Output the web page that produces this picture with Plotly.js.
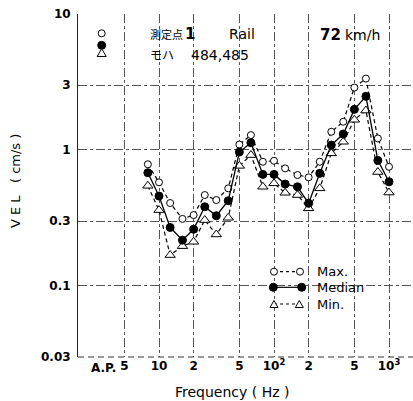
<!DOCTYPE html>
<html>
<head>
<meta charset="utf-8">
<script src="https://cdn.plot.ly/plotly-3.0.1.min.js"></script>
<style>html,body{margin:0;padding:0;background:#fff;}#chart{width:413px;height:401px;}</style>
</head>
<body>
<div id="chart"></div>
<script>
// Frequency bands (Hz), 1/3 octave
var freq = [8, 10, 12.5, 16, 20, 25, 31.5, 40, 50, 63, 80, 100, 125, 160, 200, 250, 315, 400, 500, 630, 800, 1000];
// Vibration velocity (cm/s)
var maxV = [0.785, 0.578, 0.407, 0.311, 0.332, 0.466, 0.428, 0.522, 1.096, 1.287, 0.819, 0.833, 0.732, 0.654, 0.629, 0.819, 1.361, 1.613, 2.88, 3.35, 1.217, 0.752];
var medV = [0.680, 0.458, 0.269, 0.217, 0.261, 0.382, 0.328, 0.423, 0.965, 1.13, 0.661, 0.661, 0.561, 0.536, 0.405, 0.673, 1.087, 1.31, 1.99, 2.48, 0.838, 0.583];
var minV = [0.545, 0.361, 0.1685, 0.196, 0.211, 0.305, 0.239, 0.317, 0.764, 0.917, 0.536, 0.568, 0.484, 0.466, 0.372, 0.522, 0.944, 1.149, 1.668, 1.95, 0.688, 0.486];

var xTickVals = [5, 10, 20, 50, 100, 200, 500, 1000];
var xTickText = ["5", "10", "2", "5", "10<sup>2</sup>", "2", "5", "10<sup>3</sup>"];
var yTickVals = [0.03, 0.1, 0.3, 1, 3, 10];
var yTickText = ["0.03", "0.1", "0.3", "1", "3", "10"];
var seriesNames = ["Max.", "Median", "Min."];

var FONT = "DejaVu Sans, Verdana, sans-serif";
var CJK = "Noto Sans CJK JP, sans-serif";

var traces = [
  {x: freq, y: maxV, name: seriesNames[0], mode: "lines+markers", type: "scatter",
   line: {color: "#000", width: 1.2, dash: "4px,3px"},
   marker: {symbol: "circle", size: 7, color: "#fff", line: {color: "#000", width: 1}}},
  {x: freq, y: minV, name: seriesNames[2], mode: "lines+markers", type: "scatter",
   line: {color: "#000", width: 1.2, dash: "4px,3px"},
   marker: {symbol: "triangle-up", size: 9, color: "#fff", line: {color: "#000", width: 1}}},
  {x: freq, y: medV, name: seriesNames[1], mode: "lines+markers", type: "scatter",
   line: {color: "#000", width: 1.3},
   marker: {symbol: "circle", size: 8, color: "#000", line: {color: "#000", width: 1}}}
];

// helpers for decorative symbols (paper coords, pixel sizes)
function circ(x, y, r, filled) {
  return {type: "circle", xref: "paper", yref: "paper", xsizemode: "pixel", ysizemode: "pixel",
    xanchor: x, yanchor: y, x0: -r, x1: r, y0: -r, y1: r,
    line: {color: "#000", width: 1}, fillcolor: filled ? "#000" : "#fff", layer: "above"};
}
function tri(x, y, s) {
  return {type: "path", xref: "paper", yref: "paper", xsizemode: "pixel", ysizemode: "pixel",
    xanchor: x, yanchor: y,
    path: "M" + (-s) + "," + (-s * 0.75) + "L" + s + "," + (-s * 0.75) + "L0," + (s) + "Z",
    line: {color: "#000", width: 1}, fillcolor: "#fff", layer: "above"};
}
function seg(x0, x1, y, dash) {
  return {type: "line", xref: "paper", yref: "paper", x0: x0, x1: x1, y0: y, y1: y,
    line: {color: "#000", width: 1.2, dash: dash}, layer: "above"};
}

var shapes = [
  // bottom dashed frame line
  {type: "line", xref: "paper", yref: "paper", x0: 0, x1: 1, y0: 0, y1: 0,
   line: {color: "#333", width: 1, dash: "6px,4px"}},
  // top-left symbol stack
  circ(0.0707, 0.9437, 3.5, false),
  circ(0.0707, 0.9087, 4, true),
  tri(0.0707, 0.8860, 4.5),
  // legend
  seg(0.585, 0.6627, 0.2487, "3px,3px"),
  circ(0.585, 0.2487, 3.5, false), circ(0.6627, 0.2487, 3.5, false),
  seg(0.583, 0.6678, 0.2032, "solid"),
  circ(0.583, 0.2032, 4, true), circ(0.6678, 0.2032, 4, true),
  seg(0.585, 0.6606, 0.1545, "3px,3px"),
  tri(0.585, 0.1530, 4), tri(0.6606, 0.1530, 4)
];

var annotations = [
  {text: seriesNames[0], x: 0.7075, y: 0.2487, xref: "paper", yref: "paper", xanchor: "left", yanchor: "middle", showarrow: false, font: {family: FONT, size: 13, color: "#000"}},
  {text: seriesNames[1], x: 0.7075, y: 0.2032, xref: "paper", yref: "paper", xanchor: "left", yanchor: "middle", showarrow: false, font: {family: FONT, size: 13, color: "#000"}},
  {text: seriesNames[2], x: 0.7075, y: 0.1545, xref: "paper", yref: "paper", xanchor: "left", yanchor: "middle", showarrow: false, font: {family: FONT, size: 13, color: "#000"}},
  {text: "測定点", x: 0.209, y: 0.9417, xref: "paper", yref: "paper", xanchor: "left", yanchor: "middle", showarrow: false, font: {family: CJK, size: 11, color: "#000"}},
  {text: "1", x: 0.334, y: 0.9417, xref: "paper", yref: "paper", xanchor: "center", yanchor: "middle", showarrow: false, font: {family: FONT, size: 15, color: "#000", weight: 700}},
  {text: "Rail", x: 0.4448, y: 0.9417, xref: "paper", yref: "paper", xanchor: "left", yanchor: "middle", showarrow: false, font: {family: FONT, size: 14, color: "#000"}},
  {text: "72", x: 0.7164, y: 0.9388, xref: "paper", yref: "paper", xanchor: "left", yanchor: "middle", showarrow: false, font: {family: FONT, size: 15, color: "#000", weight: 700}},
  {text: "km/h", x: 0.791, y: 0.9388, xref: "paper", yref: "paper", xanchor: "left", yanchor: "middle", showarrow: false, font: {family: FONT, size: 14, color: "#000"}},
  {text: "モハ", x: 0.209, y: 0.8805, xref: "paper", yref: "paper", xanchor: "left", yanchor: "middle", showarrow: false, font: {family: CJK, size: 12, color: "#000"}},
  {text: "484,485", x: 0.33, y: 0.8805, xref: "paper", yref: "paper", xanchor: "left", yanchor: "middle", showarrow: false, font: {family: FONT, size: 14, color: "#000"}},
  {text: "A.P.", x: 0.1194, y: -0.032, xref: "paper", yref: "paper", xanchor: "right", yanchor: "middle", showarrow: false, font: {family: FONT, size: 12, color: "#000", weight: 700}},
  {text: "Frequency ( Hz )", x: 0.461, y: -0.102, xref: "paper", yref: "paper", xanchor: "center", yanchor: "middle", showarrow: false, font: {family: FONT, size: 14, color: "#000"}},
  {text: "V E L   ( cm/s )", x: -0.188, y: 0.513, xref: "paper", yref: "paper", xanchor: "center", yanchor: "middle", textangle: -90, showarrow: false, font: {family: FONT, size: 13, color: "#000"}}
];

var layout = {
  width: 413, height: 401,
  margin: {l: 78, r: 0, t: 14, b: 44, pad: 0},
  paper_bgcolor: "#fff", plot_bgcolor: "#fff",
  showlegend: false,
  font: {family: FONT, color: "#000"},
  xaxis: {
    type: "log", range: [0.2957, 3.2087],
    tickvals: xTickVals, ticktext: xTickText, ticks: "",
    tickfont: {family: FONT, size: 12, color: "#000", weight: 700},
    showgrid: true, gridcolor: "#555", gridwidth: 1, griddash: "dashdot",
    showline: false, zeroline: false, fixedrange: true
  },
  yaxis: {
    type: "log", range: [Math.log10(0.03) - 0.0005, 1.0005],
    tickvals: yTickVals, ticktext: yTickText, ticks: "",
    ticklabelstandoff: 4,
    tickfont: {family: FONT, size: 12, color: "#000", weight: 700},
    showgrid: true, gridcolor: "#555", gridwidth: 1, griddash: "dashdot",
    showline: true, linecolor: "#222", linewidth: 1, zeroline: false, fixedrange: true
  },
  shapes: shapes,
  annotations: annotations
};

Plotly.newPlot("chart", traces, layout, {staticPlot: true, displayModeBar: false});
</script>
</body>
</html>
